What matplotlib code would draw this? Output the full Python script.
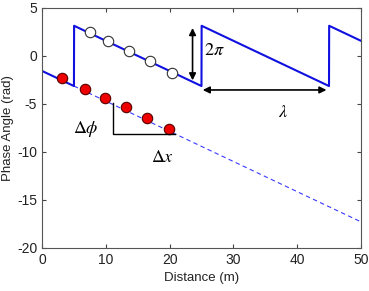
import numpy as np
import matplotlib
matplotlib.use('Agg')
import matplotlib.pyplot as plt

# Data
# ------------------------------------------------------------------------------------------
wavelength = 20.0
dist = np.linspace(0, 50, 2001)
phase_unwrapped = -np.pi / 2 - 2 * np.pi * dist / wavelength

# measured points (unwrapped, red) and wrapped (open)
red_x = [3.2, 6.7, 9.9, 13.1, 16.4, 19.95]
red_y = [-2.35, -3.4, -4.4, -5.35, -6.45, -7.65]
open_x = [7.5, 10.3, 13.7, 16.9, 20.3]
open_y = [2.5, 1.5, 0.5, -0.5, -1.75]

# Plot
# ------------------------------------------------------------------------------------------
plt.rcParams['font.family'] = ['Liberation Sans', 'DejaVu Sans']
plt.rcParams['mathtext.fontset'] = 'stix'
plt.rcParams['axes.unicode_minus'] = False

fig = plt.figure(figsize=(3.69, 2.91), dpi=100)
ax = fig.add_axes([0.114, 0.148, 0.864, 0.825])

# wrapped phase
wrapped = np.angle(np.exp(1j * phase_unwrapped))
ax.plot(dist[dist >= 5], phase_unwrapped[dist >= 5], '--', color='#3a3aff', lw=0.8, dashes=(4, 3))
ax.plot(dist, wrapped, color='#1010e0', lw=1.5)

ax.plot(red_x, red_y, 'o', ms=7.5, mfc='#ee0000', mec='#550000', mew=0.8)
ax.plot(open_x, open_y, 'o', ms=7.5, mfc='white', mec='#333333', mew=0.8)

# annotations
arr = dict(arrowstyle='<|-|>', color='black', lw=1.2, mutation_scale=10, shrinkA=0, shrinkB=0)
ax.annotate('', xy=(23.6, 2.9), xytext=(23.6, -2.55), arrowprops=arr)
ax.annotate('', xy=(25.2, -3.55), xytext=(44.6, -3.55), arrowprops=arr)
ax.text(25.4, 0.6, r'$2\pi$', fontsize=13, va='center', ha='left')
ax.text(37.8, -5.9, r'$\lambda$', fontsize=13, va='center', ha='center')
ax.plot([11.2, 11.2, 20.8], [-4.9, -8.1, -8.1], color='black', lw=1.0)
ax.text(6.8, -7.6, r'$\Delta\phi$', fontsize=13, va='center', ha='center')
ax.text(18.9, -10.6, r'$\Delta x$', fontsize=13, va='center', ha='center')

ax.set_xlim(0, 50)
ax.set_ylim(-20, 5)
ax.set_xticks([0, 10, 20, 30, 40, 50])
ax.set_yticks([-20, -15, -10, -5, 0, 5])
ax.set_xlabel('Distance (m)', fontsize=9.5, color='#222222')
ax.set_ylabel('Phase Angle (rad)', fontsize=9.5, color='#222222', labelpad=2)
ax.tick_params(direction='in', top=True, right=True, labelsize=10, colors='#444444',
               labelcolor='#222222', length=3)
for s in ax.spines.values():
    s.set_color('#555555')

plt.savefig('out.png', dpi=100)
plt.close(fig)
